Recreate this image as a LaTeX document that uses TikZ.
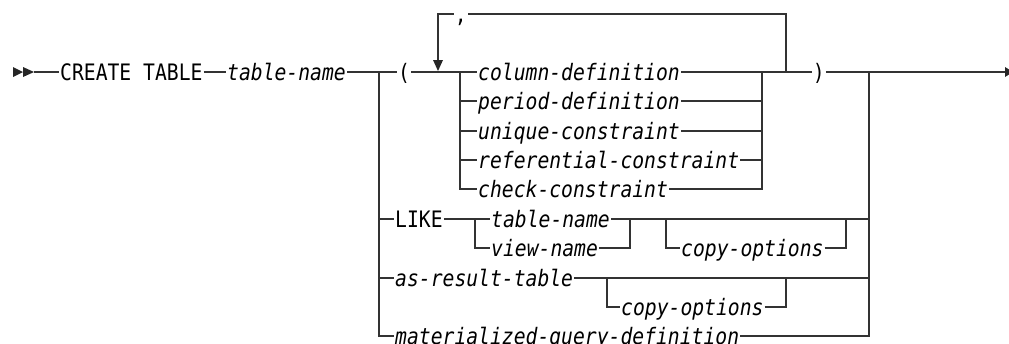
\documentclass[tikz,border=0pt]{standalone}
\usepackage{fontspec}
\setmonofont{DejaVu Sans Mono}
\newcommand{\tallt}[1]{\scalebox{1}[1.15]{#1}}
\tikzset{
  rr/.style={line width=1.3pt, draw=black!80},
  kw/.style={font=\ttfamily\fontsize{19.7}{20}\selectfont, inner xsep=1pt, inner ysep=0pt, text height=16pt, text depth=0pt, anchor=west},
  var/.style={kw, font=\ttfamily\itshape\fontsize{19.7}{20}\selectfont},
  tip/.style={fill=black!85},
}
\begin{document}
\begin{tikzpicture}[x=1pt,y=-1pt]
\useasboundingbox (0,0) rectangle (1009,343);
\clip (0,0) rectangle (1009,343);
% start marks
\fill[tip] (13,67) -- (23,72) -- (13,77) -- cycle;
\fill[tip] (23,67) -- (34,72) -- (23,77) -- cycle;
\coordinate (start) at (34,72);
% main line
\node[kw] (ct) at (59,72) {\tallt{CREATE TABLE}};
\node[var] (tn) at (226,72) {\tallt{table-name}};
\coordinate (j1) at (379,72);
\node[kw] (lp) at (397,72) {\tallt{(}};
\coordinate (j2) at (460,72);
% loop
\coordinate (lt) at (438,14);
\coordinate (ah) at (438,60);
\node[kw] (cm) at (453.6,14) {\tallt{,}};
\coordinate (lr) at (786,14);
\coordinate (j7) at (786,72);
% element rows
\node[var] (r1) at (477,72) {\tallt{column-definition}};
\node[var] (r2) at (477,101) {\tallt{period-definition}};
\node[var] (r3) at (477,131) {\tallt{unique-constraint}};
\node[var] (r4) at (477,160) {\tallt{referential-constraint}};
\node[var] (r5) at (477,189) {\tallt{check-constraint}};
\coordinate (k1) at (762,72);
\node[kw] (rp) at (811.6,72) {\tallt{)}};
\coordinate (j3) at (869,72);
\coordinate (endp) at (1005,72);
% alternatives
\node[kw] (like) at (394,219) {\tallt{LIKE}};
\coordinate (j4) at (475,219);
\node[var] (ltn) at (490,219) {\tallt{table-name}};
\node[var] (lvn) at (490,248) {\tallt{view-name}};
\coordinate (k2) at (630,219);
\coordinate (j5) at (666,219);
\node[var] (co1) at (680,248) {\tallt{copy-options}};
\coordinate (j8) at (846,219);
\coordinate (k5) at (869,219);
\node[var] (asr) at (394,278) {\tallt{as-result-table}};
\coordinate (j6) at (607,278);
\node[var] (co2) at (620,307) {\tallt{copy-options}};
\coordinate (j9) at (786,278);
\coordinate (k6) at (869,278);
\node[var] (mat) at (394,336) {\tallt{materialized-query-definition}};

% connectors
\draw[rr] (start) -- (ct);
\draw[rr] (ct) -- (tn);
\draw[rr] (tn) -- (j1) -- (lp);
\draw[rr] (lp) -- (j2) -- (r1);
\draw[rr] (j2) |- (r2);
\draw[rr] (j2) |- (r3);
\draw[rr] (j2) |- (r4);
\draw[rr] (j2) |- (r5);
\draw[rr] (r1) -- (k1) -- (j7) -- (rp);
\draw[rr] (r2) -| (k1);
\draw[rr] (r3) -| (k1);
\draw[rr] (r4) -| (k1);
\draw[rr] (r5) -| (k1);
\draw[rr] (rp) -- (j3) -- (endp);
\fill[tip] (1005,67) -- (1013,72) -- (1005,77) -- cycle;
% repeat loop
\draw[rr] (j7) -- (lr) -- (cm);
\draw[rr] (cm) -- (lt) -- (ah);
\fill[tip] (433,60) -- (443,60) -- (438,71) -- cycle;
% lower alternatives
\draw[rr] (j1) |- (like);
\draw[rr] (j1) |- (asr);
\draw[rr] (j1) |- (mat);
\draw[rr] (like) -- (j4) -- (ltn);
\draw[rr] (j4) |- (lvn);
\draw[rr] (ltn) -- (k2) -- (j5) -- (j8) -- (k5);
\draw[rr] (lvn) -| (k2);
\draw[rr] (j5) |- (co1);
\draw[rr] (co1) -| (j8);
\draw[rr] (asr) -- (j6) -- (j9) -- (k6);
\draw[rr] (j6) |- (co2);
\draw[rr] (co2) -| (j9);
\draw[rr] (mat) -| (j3);
\end{tikzpicture}
\end{document}
